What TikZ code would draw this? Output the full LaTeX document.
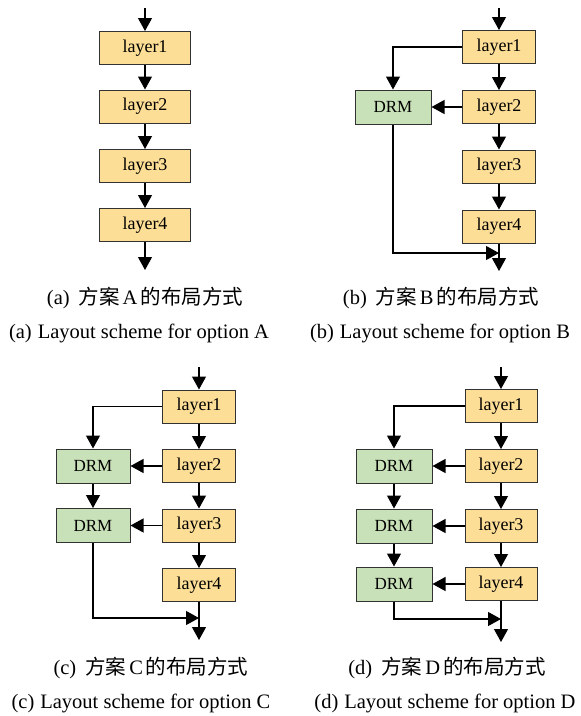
\documentclass[tikz,border=0pt]{standalone}
\usepackage{fontspec}
\setmainfont{Liberation Serif}
\newfontfamily\cjk{Noto Sans CJK SC}
\usetikzlibrary{arrows.meta}
\definecolor{layerfill}{RGB}{253,222,150}
\definecolor{drmfill}{RGB}{200,225,184}
\definecolor{boxline}{RGB}{50,50,50}
\tikzset{
  layerbox/.style={draw=boxline, line width=1pt, fill=layerfill, minimum height=33pt,
    inner sep=0pt, font=\fontsize{18}{20}\selectfont},
  drmbox/.style={draw=boxline, line width=1pt, fill=drmfill, minimum height=34pt,
    inner sep=0pt, font=\fontsize{17}{19}\selectfont},
  arr/.style={line width=1.2pt, black, -{Triangle[width=14pt,length=13pt]}},
  link/.style={line width=1.2pt, black},
  capcn/.style={font=\fontsize{20.5}{22}\selectfont, inner sep=0pt},
  capen/.style={font=\fontsize{20.5}{22}\selectfont, inner sep=0pt},
}
\newcommand{\cncap}[2]{(#1)\hspace{9pt}{\cjk 方案}\hspace{3pt}#2\hspace{3pt}{\cjk 的布局方式}}
\begin{document}
\begin{tikzpicture}[x=1pt,y=-1pt]
\useasboundingbox (0,0) rectangle (581,716);

% ---------- (a) ----------
\begin{scope}
\node[layerbox, minimum width=91pt] (a1) at (145,48) {layer1};
\node[layerbox, minimum width=91pt] (a2) at (145,106.5) {layer2};
\node[layerbox, minimum width=91pt] (a3) at (145,166) {layer3};
\node[layerbox, minimum width=91pt] (a4) at (145,225) {layer4};
\coordinate (ain) at (145,8);
\coordinate (aout) at (145,270);
\draw[arr] (ain) -- (a1.north);
\draw[arr] (a1.south) -- (a2.north);
\draw[arr] (a2.south) -- (a3.north);
\draw[arr] (a3.south) -- (a4.north);
\draw[arr] (a4.south) -- (aout);
\node[capcn] (acn) at (145,298) {\cncap{a}{A}};
\node[capen] (aen) at (139,333) {(a)\hspace{6pt}Layout scheme for option A};
\end{scope}

% ---------- (b) ----------
\begin{scope}
\node[layerbox, minimum width=73pt] (b1) at (499,47) {layer1};
\node[layerbox, minimum width=73pt] (b2) at (499,107) {layer2};
\node[layerbox, minimum width=73pt] (b3) at (499,166.5) {layer3};
\node[layerbox, minimum width=73pt] (b4) at (499,226.5) {layer4};
\node[drmbox, minimum width=76pt] (bd2) at (393,107) {DRM};
\coordinate (bin) at (499,8);
\coordinate (bjoin) at (499,253);
\coordinate (bout) at (499,271);
\draw[arr] (bin) -- (b1.north);
\draw[arr] (b1.south) -- (b2.north);
\draw[arr] (b2.south) -- (b3.north);
\draw[arr] (b3.south) -- (b4.north);
\draw[link] (b4.south) -- (bjoin);
\draw[arr] (bjoin) -- (bout);
\draw[arr] (b1.west) -| (bd2.north);
\draw[arr] (b2.west) -- (bd2.east);
\draw[arr] (bd2.south) |- (bjoin);
\node[capcn] (bcn) at (441,298) {\cncap{b}{B}};
\node[capen] (ben) at (440,333) {(b)\hspace{6pt}Layout scheme for option B};
\end{scope}

% ---------- (c) ----------
\begin{scope}
\node[layerbox, minimum width=73pt] (c1) at (199,406.5) {layer1};
\node[layerbox, minimum width=73pt] (c2) at (199,466) {layer2};
\node[layerbox, minimum width=73pt] (c3) at (199,525.5) {layer3};
\node[layerbox, minimum width=73pt] (c4) at (199,585) {layer4};
\node[drmbox, minimum width=74pt] (cd2) at (93,466) {DRM};
\node[drmbox, minimum width=74pt] (cd3) at (93,525.5) {DRM};
\coordinate (cin) at (199,367);
\coordinate (cjoin) at (199,618);
\coordinate (cout) at (199,640);
\draw[arr] (cin) -- (c1.north);
\draw[arr] (c1.south) -- (c2.north);
\draw[arr] (c2.south) -- (c3.north);
\draw[arr] (c3.south) -- (c4.north);
\draw[link] (c4.south) -- (cjoin);
\draw[arr] (cjoin) -- (cout);
\draw[arr] (c1.west) -| (cd2.north);
\draw[arr] (c2.west) -- (cd2.east);
\draw[arr] (c3.west) -- (cd3.east);
\draw[arr] (cd2.south) -- (cd3.north);
\draw[arr] (cd3.south) |- (cjoin);
\node[capcn] (ccn) at (151,668) {\cncap{c}{C}};
\node[capen] (cen) at (141,703) {(c)\hspace{6pt}Layout scheme for option C};
\end{scope}

% ---------- (d) ----------
\begin{scope}
\node[layerbox, minimum width=72pt] (d1) at (501,406) {layer1};
\node[layerbox, minimum width=72pt] (d2) at (501,466) {layer2};
\node[layerbox, minimum width=72pt] (d3) at (501,526) {layer3};
\node[layerbox, minimum width=72pt] (d4) at (501,584) {layer4};
\node[drmbox, minimum width=76pt] (dd2) at (394,466) {DRM};
\node[drmbox, minimum width=76pt] (dd3) at (394,526) {DRM};
\node[drmbox, minimum width=76pt] (dd4) at (394,584) {DRM};
\coordinate (din) at (501,367);
\coordinate (djoin) at (501,619);
\coordinate (dout) at (501,642);
\draw[arr] (din) -- (d1.north);
\draw[arr] (d1.south) -- (d2.north);
\draw[arr] (d2.south) -- (d3.north);
\draw[arr] (d3.south) -- (d4.north);
\draw[link] (d4.south) -- (djoin);
\draw[arr] (djoin) -- (dout);
\draw[arr] (d1.west) -| (dd2.north);
\draw[arr] (d2.west) -- (dd2.east);
\draw[arr] (d3.west) -- (dd3.east);
\draw[arr] (d4.west) -- (dd4.east);
\draw[arr] (dd2.south) -- (dd3.north);
\draw[arr] (dd3.south) -- (dd4.north);
\draw[arr] (dd4.south) |- (djoin);
\node[capcn] (dcn) at (447,668) {\cncap{d}{D}};
\node[capen] (den) at (445,703) {(d)\hspace{6pt}Layout scheme for option D};
\end{scope}
\end{tikzpicture}
\end{document}
